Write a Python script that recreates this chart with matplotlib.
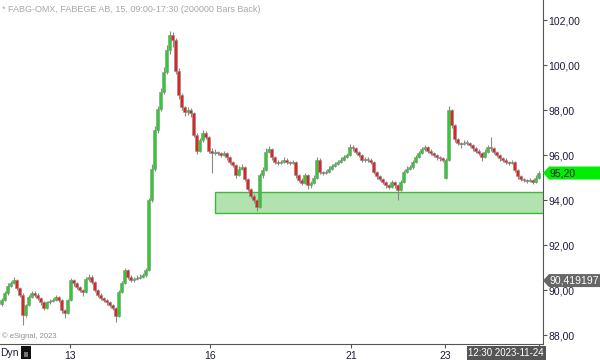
import numpy as np
import matplotlib.pyplot as plt
from matplotlib.patches import Rectangle, Polygon

# 15-minute bars, FABEGE AB
closes = [
    89.55, 89.85, 90.2, 90.3, 90.45, 90.1, 89.8, 88.9, 89.35, 89.7,
    89.85, 89.8, 89.65, 89.45, 89.2, 89.45, 89.5, 89.55, 89.7, 89.55,
    89.1, 89.0, 89.55, 90.45, 90.3, 90.15, 90.0, 89.9, 90.5, 90.6,
    90.35, 90.0, 89.8, 89.65, 89.55, 89.45, 89.35, 89.2, 88.85, 89.9,
    90.3, 90.9, 90.6, 90.45, 90.5, 90.55, 90.6, 90.65, 90.9, 94.0,
    95.4, 97.1, 98.05, 98.8, 99.7, 100.65, 101.35, 101.1, 99.75, 98.65,
    98.15, 97.9, 98.0, 97.85, 96.9, 96.2, 96.65, 96.98, 96.8, 96.2,
    96.1, 96.15, 96.1, 96.0, 96.1, 95.9, 95.7, 95.55, 95.1, 95.4,
    95.45, 94.95, 94.5, 94.2, 94.0, 93.7, 95.1, 95.35, 96.15, 96.25,
    95.9, 95.7, 95.65, 95.7, 95.8, 95.7, 95.65, 95.7, 95.1, 94.9,
    94.75, 95.1, 94.65, 94.75, 95.0, 95.8, 95.25, 95.2, 95.25, 95.4,
    95.5, 95.6, 95.7, 95.8, 95.9, 96.0, 96.35, 96.3, 96.15, 96.0,
    95.8, 95.8, 95.8, 95.7, 95.25, 95.05, 94.95, 94.8, 94.65, 94.6,
    94.8, 94.65, 94.45, 94.8, 95.25, 95.4, 95.45, 95.7, 95.9, 96.1,
    96.25, 96.35, 96.2, 96.1, 96.0, 95.9, 95.85, 95.8, 95.8, 98.0,
    97.35, 96.7, 96.55, 96.5, 96.55, 96.55, 96.45, 96.3, 96.2, 96.1,
    95.9, 96.15, 96.35, 96.3, 96.15, 96.0, 95.85, 95.8, 95.7, 95.65,
    95.7, 95.35, 95.05, 94.95, 94.9, 94.85, 94.9, 94.8, 95.0, 95.2,
]
highs = [
    89.65, 89.95, 90.3, 90.4, 90.6, 90.5, 90.15, 89.85, 89.4, 89.8,
    89.95, 89.95, 89.85, 89.7, 89.5, 89.5, 89.6, 89.65, 89.8, 89.75,
    89.6, 89.15, 89.6, 90.55, 90.5, 90.35, 90.2, 90.05, 90.6, 90.7,
    90.65, 90.4, 90.05, 89.85, 89.7, 89.6, 89.5, 89.4, 89.25, 90.0,
    90.4, 91.0, 90.95, 90.65, 90.6, 90.65, 90.7, 90.75, 91.0, 94.1,
    95.6, 97.3, 98.2, 99.0, 99.9, 100.9, 101.5, 101.45, 101.2, 99.85,
    98.75, 98.2, 98.15, 98.1, 97.9, 97.0, 96.75, 97.1, 97.05, 96.85,
    96.3, 96.25, 96.2, 96.15, 96.2, 96.15, 95.95, 95.75, 95.6, 95.5,
    95.6, 95.5, 95.0, 94.55, 94.25, 94.05, 95.2, 95.45, 96.3, 96.4,
    96.3, 95.95, 95.8, 95.8, 95.9, 95.85, 95.75, 95.8, 95.75, 95.15,
    95.0, 95.2, 95.15, 94.85, 95.1, 95.9, 95.85, 95.3, 95.35, 95.5,
    95.6, 95.7, 95.8, 95.9, 96.0, 96.1, 96.5, 96.45, 96.35, 96.2,
    96.05, 95.9, 95.9, 95.85, 95.75, 95.3, 95.1, 95.0, 94.85, 94.7,
    94.9, 94.85, 94.7, 94.9, 95.35, 95.5, 95.55, 95.8, 96.0, 96.2,
    96.35, 96.45, 96.4, 96.25, 96.15, 96.05, 95.95, 95.9, 95.85, 98.2,
    98.05, 97.4, 96.75, 96.6, 96.65, 96.65, 96.6, 96.5, 96.35, 96.25,
    96.15, 96.25, 96.45, 96.8, 96.35, 96.2, 96.05, 95.9, 95.85, 95.75,
    95.8, 95.75, 95.4, 95.1, 95.0, 94.95, 95.0, 94.95, 95.1, 95.3,
]
lows = [
    89.3, 89.5, 89.8, 90.15, 90.25, 90.0, 89.7, 88.45, 88.8, 89.3,
    89.65, 89.7, 89.55, 89.35, 89.1, 89.15, 89.4, 89.45, 89.5, 89.45,
    89.0, 88.75, 88.95, 89.5, 90.2, 90.05, 89.9, 89.75, 89.85, 90.4,
    90.25, 89.9, 89.7, 89.55, 89.45, 89.35, 89.25, 89.1, 88.6, 88.8,
    89.85, 90.25, 90.5, 90.35, 90.35, 90.45, 90.5, 90.55, 90.6, 90.85,
    93.9, 95.3, 97.0, 97.95, 98.7, 99.6, 100.5, 100.8, 99.6, 98.5,
    98.0, 97.75, 97.8, 97.7, 96.8, 96.05, 96.15, 96.6, 96.7, 96.1,
    95.2, 96.0, 96.0, 95.9, 95.95, 95.8, 95.6, 95.45, 95.0, 95.05,
    95.35, 94.85, 94.4, 94.1, 93.85, 93.5, 93.65, 95.0, 95.3, 96.1,
    95.8, 95.6, 95.55, 95.6, 95.65, 95.6, 95.55, 95.6, 95.0, 94.8,
    94.65, 94.7, 94.5, 94.55, 94.7, 94.95, 95.15, 95.1, 95.15, 95.2,
    95.35, 95.45, 95.55, 95.65, 95.75, 95.85, 95.95, 96.2, 96.05, 95.9,
    95.7, 95.7, 95.7, 95.6, 95.15, 94.95, 94.85, 94.7, 94.55, 94.5,
    94.55, 94.55, 94.0, 94.4, 94.75, 95.2, 95.35, 95.4, 95.65, 95.85,
    96.05, 96.2, 96.1, 96.0, 95.9, 95.8, 95.75, 95.7, 94.95, 95.75,
    97.2, 96.6, 96.45, 96.3, 96.45, 96.45, 96.35, 96.2, 96.1, 96.0,
    95.75, 95.85, 96.1, 96.2, 96.05, 95.9, 95.75, 95.7, 95.6, 95.55,
    95.6, 95.25, 94.95, 94.85, 94.8, 94.75, 94.8, 94.7, 94.75, 94.95,
]
# opens follow the previous close, except where the bar opened on a gap
gap_opens = {0: 89.4, 148: 95.0}

day_ticks = [22.8, 69.5, 116.5, 147.8, 179.2]
day_labels = ['13', '16', '21', '23', '']
yticks = [88, 90, 92, 94, 96, 98, 100, 102]

zone_low, zone_high, zone_start = 93.42, 94.36, 71.2
last_price = 95.20
ref_price = 90.419197

opens = [gap_opens.get(i, closes[i - 1] if i > 0 else closes[0]) for i in range(len(closes))]
o = np.array(opens)
c = np.array(closes)
x = np.arange(len(closes))
up = c >= o

plt.rcParams['font.family'] = ['Liberation Sans', 'DejaVu Sans']
fig = plt.figure(figsize=(6, 3.6), dpi=100)
ax = fig.add_axes([0, 1 - 344 / 360, 543 / 600, 344 / 360])
ax.set_xlim(-0.5, 180.5)
ax.set_ylim(87.6, 102.89)

# support zone
ax.add_patch(Rectangle((zone_start, zone_low), 181 - zone_start, zone_high - zone_low,
                       facecolor='#b3e2b1', edgecolor='#3fb83a', lw=1.0, zorder=1))

# candles
ax.vlines(x, lows, highs, color='#8a8a8a', lw=0.8, zorder=2)
body_h = np.maximum(np.abs(c - o), 0.03)
ax.bar(x, body_h, bottom=np.minimum(o, c), width=0.75,
       color=np.where(up, '#2ecc2e', '#e02424'), edgecolor='#8a8a8a', linewidth=0.4, zorder=3)

# axes styling
for s in ['top', 'left']:
    ax.spines[s].set_visible(False)
ax.spines['right'].set_color('#555555')
ax.spines['bottom'].set_color('#555555')
ax.yaxis.tick_right()
ax.set_yticks(yticks)
ax.set_yticklabels([f'{v:.2f}'.replace('.', ',') for v in yticks], color='#1c1c3a', fontsize=7.5)
ax.tick_params(axis='y', length=3, pad=1, color='#555555')
ax.set_xticks(day_ticks)
ax.set_xticklabels(day_labels, color='#1c1c3a', fontsize=7.5)
ax.tick_params(axis='x', length=3, pad=2, color='#555555')

fig.text(0.003, 0.985, '* FABG-OMX, FABEGE AB, 15, 09:00-17:30 (200000 Bars Back)',
         color='#a8a8a8', fontsize=6.5, va='top', ha='left')
fig.text(0.003, 1 - 336 / 360, '© eSignal, 2023', color='#909090', fontsize=5.5, va='center')
fig.text(0.0, 1 - 353 / 360, 'Dyn', color='#1c1c3a', fontsize=7.5, va='center')
fig.patches.append(Rectangle((21 / 600, 1 / 360), 10 / 600, 13 / 360,
                             transform=fig.transFigure, facecolor='#111111', edgecolor='none'))
fig.patches.append(Rectangle((24 / 600, 3 / 360), 4 / 600, 5 / 360,
                             transform=fig.transFigure, facecolor='#777777', edgecolor='none'))

# right side price tags
def price_tag(price, text, face, fg):
    yf = ax.transLimits.transform((0, price))[1] * (344 / 360) + (1 - 344 / 360)
    h = 13 / 360
    x0 = 543 / 600
    pts = [(x0, yf), (x0 + 6 / 600, yf + h / 2), (1.0, yf + h / 2), (1.0, yf - h / 2), (x0 + 6 / 600, yf - h / 2)]
    fig.patches.append(Polygon(pts, closed=True, transform=fig.transFigure, facecolor=face, edgecolor='none'))
    fig.text(x0 + 7 / 600, yf, text, color=fg, fontsize=7.5, va='center', ha='left')

price_tag(last_price, f'{last_price:.2f}'.replace('.', ','), '#00ee00', '#1c1c1c')
price_tag(ref_price, f'{ref_price:.6f}'.replace('.', ','), '#666666', '#ffffff')

fig.patches.append(Rectangle((467 / 600, 0), 79 / 600, 14 / 360, transform=fig.transFigure,
                             facecolor='#555555', edgecolor='none'))
fig.text(506 / 600, 7 / 360, '12:30 2023-11-24', color='#ffffff', fontsize=7, va='center', ha='center')

fig.savefig('out.png', dpi=100)
